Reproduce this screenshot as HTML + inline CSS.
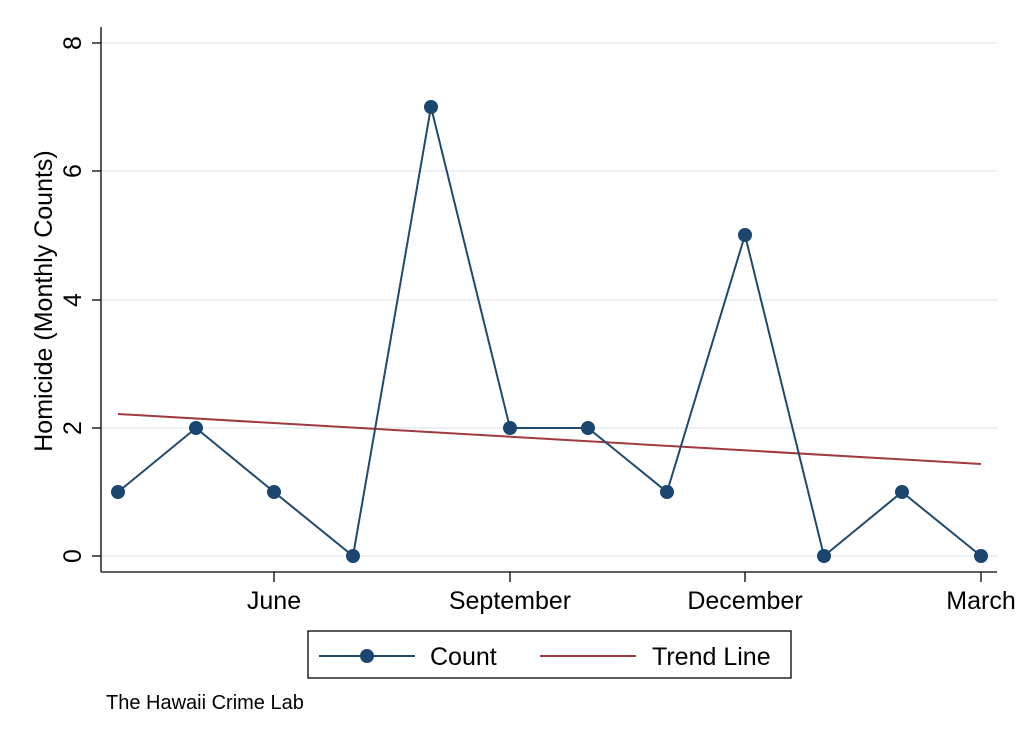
<!DOCTYPE html>
<html><head><style>body{margin:0;background:#fff}</style></head><body>
<svg width="1024" height="744" xmlns="http://www.w3.org/2000/svg" font-family="Liberation Sans, sans-serif">
<rect width="1024" height="744" fill="#fff"/>
<g stroke="#e6ecf0" stroke-width="1.5">
<line x1="101" x2="997" y1="556" y2="556"/><line x1="101" x2="997" y1="428" y2="428"/>
<line x1="101" x2="997" y1="300" y2="300"/><line x1="101" x2="997" y1="171" y2="171"/>
<line x1="101" x2="997" y1="43" y2="43"/></g>
<g stroke="#000" stroke-width="1.3">
<line x1="101" y1="27" x2="101" y2="572"/><line x1="101" y1="572" x2="997" y2="572"/>
<line x1="92" x2="101" y1="556" y2="556"/><line x1="92" x2="101" y1="428" y2="428"/>
<line x1="92" x2="101" y1="300" y2="300"/><line x1="92" x2="101" y1="171" y2="171"/>
<line x1="92" x2="101" y1="43" y2="43"/>
<line x1="274" x2="274" y1="572" y2="582"/><line x1="510" x2="510" y1="572" y2="582"/>
<line x1="745" x2="745" y1="572" y2="582"/><line x1="981" x2="981" y1="572" y2="582"/></g>
<g font-size="25" text-anchor="middle">
<text transform="translate(81,556) rotate(-90)">0</text>
<text transform="translate(81,428) rotate(-90)">2</text>
<text transform="translate(81,300) rotate(-90)">4</text>
<text transform="translate(81,171) rotate(-90)">6</text>
<text transform="translate(81,43) rotate(-90)">8</text>
<text transform="translate(52,301) rotate(-90)">Homicide (Monthly Counts)</text>
<text x="274" y="609">June</text><text x="510" y="609">September</text>
<text x="745" y="609">December</text><text x="981" y="609">March</text></g>
<line x1="118" y1="414" x2="981" y2="464" stroke="#a03a3f" stroke-width="2"/>
<polyline fill="none" stroke="#1f4a6e" stroke-width="2" points="118,492 196,428 274,492 353,556 431,107 510,428 588,428 667,492 745,235 824,556 902,492 981,556"/>
<g fill="#1a4670">
<circle cx="118" cy="492" r="7"/><circle cx="196" cy="428" r="7"/><circle cx="274" cy="492" r="7"/>
<circle cx="353" cy="556" r="7"/><circle cx="431" cy="107" r="7"/><circle cx="510" cy="428" r="7"/>
<circle cx="588" cy="428" r="7"/><circle cx="667" cy="492" r="7"/><circle cx="745" cy="235" r="7"/>
<circle cx="824" cy="556" r="7"/><circle cx="902" cy="492" r="7"/><circle cx="981" cy="556" r="7"/></g>
<rect x="308" y="631" width="483" height="47" fill="#fff" stroke="#000" stroke-width="1.3"/>
<line x1="319" x2="415" y1="656" y2="656" stroke="#1f4a6e" stroke-width="2"/>
<circle cx="367" cy="656" r="7" fill="#1a4670"/>
<line x1="540" x2="636" y1="656" y2="656" stroke="#a03a3f" stroke-width="2"/>
<text x="430" y="665" font-size="25">Count</text>
<text x="652" y="665" font-size="25">Trend Line</text>
<text x="106" y="709" font-size="20">The Hawaii Crime Lab</text>
</svg>
</body></html>
